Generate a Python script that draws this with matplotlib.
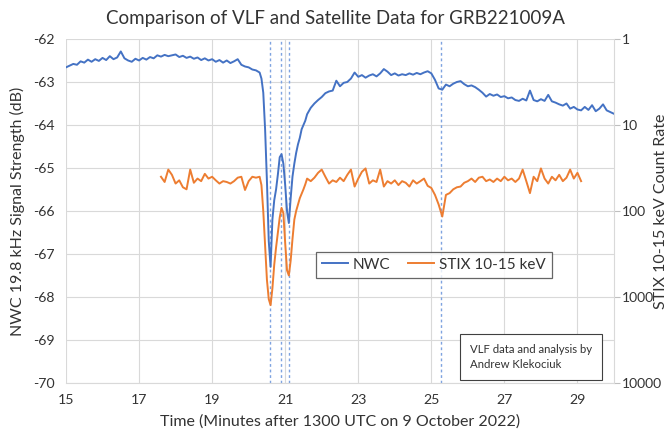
import numpy as np
import matplotlib
matplotlib.use('Agg')
import matplotlib.pyplot as plt
from matplotlib.ticker import FixedLocator, FixedFormatter

plt.rcParams['font.family'] = ['Lato', 'DejaVu Sans']
plt.rcParams['axes.unicode_minus'] = False

# NWC VLF signal strength (dB), minutes after 1300 UTC
nwc_t = np.concatenate([np.linspace(15.0, 20.3, 54),
                        np.linspace(20.35, 21.6, 26),
                        np.linspace(21.7, 30.0, 84)])
nwc_db = [
    -62.66, -62.62, -62.58, -62.60, -62.52, -62.55, -62.48, -62.53, -62.47, -62.51,
    -62.44, -62.49, -62.40, -62.47, -62.43, -62.29, -62.45, -62.50, -62.53, -62.46,
    -62.50, -62.44, -62.48, -62.42, -62.45, -62.38, -62.41, -62.37, -62.40, -62.38,
    -62.36, -62.42, -62.39, -62.44, -62.41, -62.46, -62.43, -62.49, -62.45, -62.50,
    -62.47, -62.53, -62.49, -62.55, -62.50, -62.56, -62.52, -62.47, -62.60, -62.64,
    -62.66, -62.71, -62.73, -62.78,
    # burst
    -62.92, -63.25, -64.10, -65.30, -66.70, -67.30, -66.20, -65.75, -65.50, -65.15,
    -64.75, -64.68, -64.90, -65.40, -66.00, -66.28, -65.70, -65.20, -64.90, -64.65,
    -64.45, -64.30, -64.10, -64.00, -63.90, -63.75,
    # recovery
    -63.60, -63.50, -63.42,
    -63.35, -63.26, -63.22, -63.20, -62.97, -63.10, -63.02, -63.00, -62.92, -62.78,
    -62.88, -62.84, -62.90, -62.85, -62.82, -62.87, -62.80, -62.70, -62.76, -62.84,
    -62.80, -62.85, -62.82, -62.84, -62.80, -62.83, -62.79, -62.82, -62.78, -62.75,
    -62.80, -62.95, -63.15, -63.18, -63.06, -63.10, -63.04, -63.00, -62.98, -63.05,
    -63.10, -63.08, -63.12, -63.18, -63.25, -63.34, -63.28, -63.32, -63.29, -63.35,
    -63.33, -63.38, -63.36, -63.42, -63.44, -63.39, -63.43, -63.20, -63.42, -63.45,
    -63.40, -63.44, -63.30, -63.45, -63.48, -63.52, -63.55, -63.50, -63.62, -63.58,
    -63.64, -63.66, -63.58, -63.65, -63.54, -63.68, -63.62, -63.52, -63.66, -63.70,
    -63.74,
]

# STIX 10-15 keV count rate
stix_t = np.concatenate([np.linspace(17.6, 20.3, 28),
                         np.linspace(20.35, 21.6, 26),
                         np.linspace(21.7, 29.1, 75)])
stix_counts = [
    40, 46, 33, 38, 48, 44, 53, 56, 33, 47, 42, 45, 37, 42, 40, 44, 48, 45, 46, 48,
    45, 41, 40, 57, 45, 40, 41, 40,
    # burst
    50, 100, 251, 631, 1059, 1245, 794, 422, 266, 178, 119, 92, 106, 237, 490, 562,
    376, 211, 126, 100, 84, 71, 63, 56, 49, 42,
    # after
    45, 41, 36,
    33, 40, 48, 44, 46, 41, 45, 38, 33, 52,
    42, 35, 32, 48, 44, 46, 33, 52, 45, 48,
    44, 50, 45, 47, 52, 44, 48, 45, 42, 51,
    54, 65, 84, 116, 65, 62, 56, 53, 52, 47,
    45, 42, 46, 41, 40, 45, 43, 46, 42, 45,
    40, 44, 42, 46, 42, 33, 45, 62, 40, 45,
    32, 42, 48, 40, 44, 38, 45, 41, 33, 42,
    36, 45,
]

event_times = [20.59, 20.89, 21.11, 25.27]

txt = '#333333'
grid_c = '#d9d9d9'

fig = plt.figure(figsize=(6.7, 4.36), dpi=100)
ax = fig.add_axes([0.0985, 0.1216, 0.8179, 0.789])
ax2 = ax.twinx()

ax.set_xlim(15, 30)
ax.set_ylim(-70, -62)
ax.set_xticks(np.arange(15, 30, 2))
ax.set_yticks(np.arange(-70, -61, 1))
ax.grid(True, color=grid_c, lw=0.8)
ax.set_axisbelow(True)
for s in ['top', 'left', 'right']:
    ax.spines[s].set_visible(False)
ax.spines['bottom'].set_color(grid_c)
ax.tick_params(length=0, labelsize=10.2, colors=txt, pad=8)

for et in event_times:
    ax.axvline(et, color='#7ea3e0', lw=1, ls=(0, (2, 2)))

l1, = ax.plot(nwc_t, nwc_db, color='#4472C4', lw=1.4, label='NWC')

ax2.set_yscale('log')
ax2.set_ylim(10000, 1)
l2, = ax2.plot(stix_t, stix_counts, color='#ED7D31', lw=1.4, label='STIX 10-15 keV')
ax2.yaxis.set_major_locator(FixedLocator([1, 10, 100, 1000, 10000]))
ax2.yaxis.set_major_formatter(FixedFormatter(['1', '10', '100', '1000', '10000']))
ax2.yaxis.set_minor_locator(FixedLocator([]))
for s in ['top', 'left', 'bottom']:
    ax2.spines[s].set_visible(False)
ax2.spines['right'].set_color(grid_c)
ax2.tick_params(length=4, color='#bfbfbf', labelsize=10, colors=txt, pad=2)
ax2.tick_params(axis='y', color='#bfbfbf')

ax.set_xlabel('Time (Minutes after 1300 UTC on 9 October 2022)', fontsize=11.5,
              color=txt, labelpad=6)
ax.set_ylabel('NWC 19.8 kHz Signal Strength (dB)', fontsize=11.5, color=txt,
              labelpad=6)
fig.text(0.986, 0.516, 'STIX 10-15 keV Count Rate', rotation=90, fontsize=11.5,
         color=txt, ha='center', va='center')

fig.suptitle('Comparison of VLF and Satellite Data for GRB221009A', fontsize=13.5,
             color=txt, x=0.5, y=0.976)

leg = ax2.legend(handles=[l1, l2], loc='center', bbox_to_anchor=(0.671, 0.344),
                 ncol=2, fontsize=11, frameon=True, fancybox=False,
                 handlelength=1.7, handletextpad=0.3, columnspacing=1.2,
                 borderpad=0.4)
leg.get_frame().set_edgecolor('#404040')
leg.get_frame().set_linewidth(0.9)
for t in leg.get_texts():
    t.set_color(txt)

ax2.text(0.737, 0.113, 'VLF data and analysis by\nAndrew Klekociuk',
         transform=ax.transAxes, fontsize=8.2, color=txt, va='top', ha='left',
         linespacing=1.45,
         bbox=dict(boxstyle='square,pad=0.9', fc='white', ec='#404040', lw=0.8))

fig.savefig('out.png', dpi=100)
